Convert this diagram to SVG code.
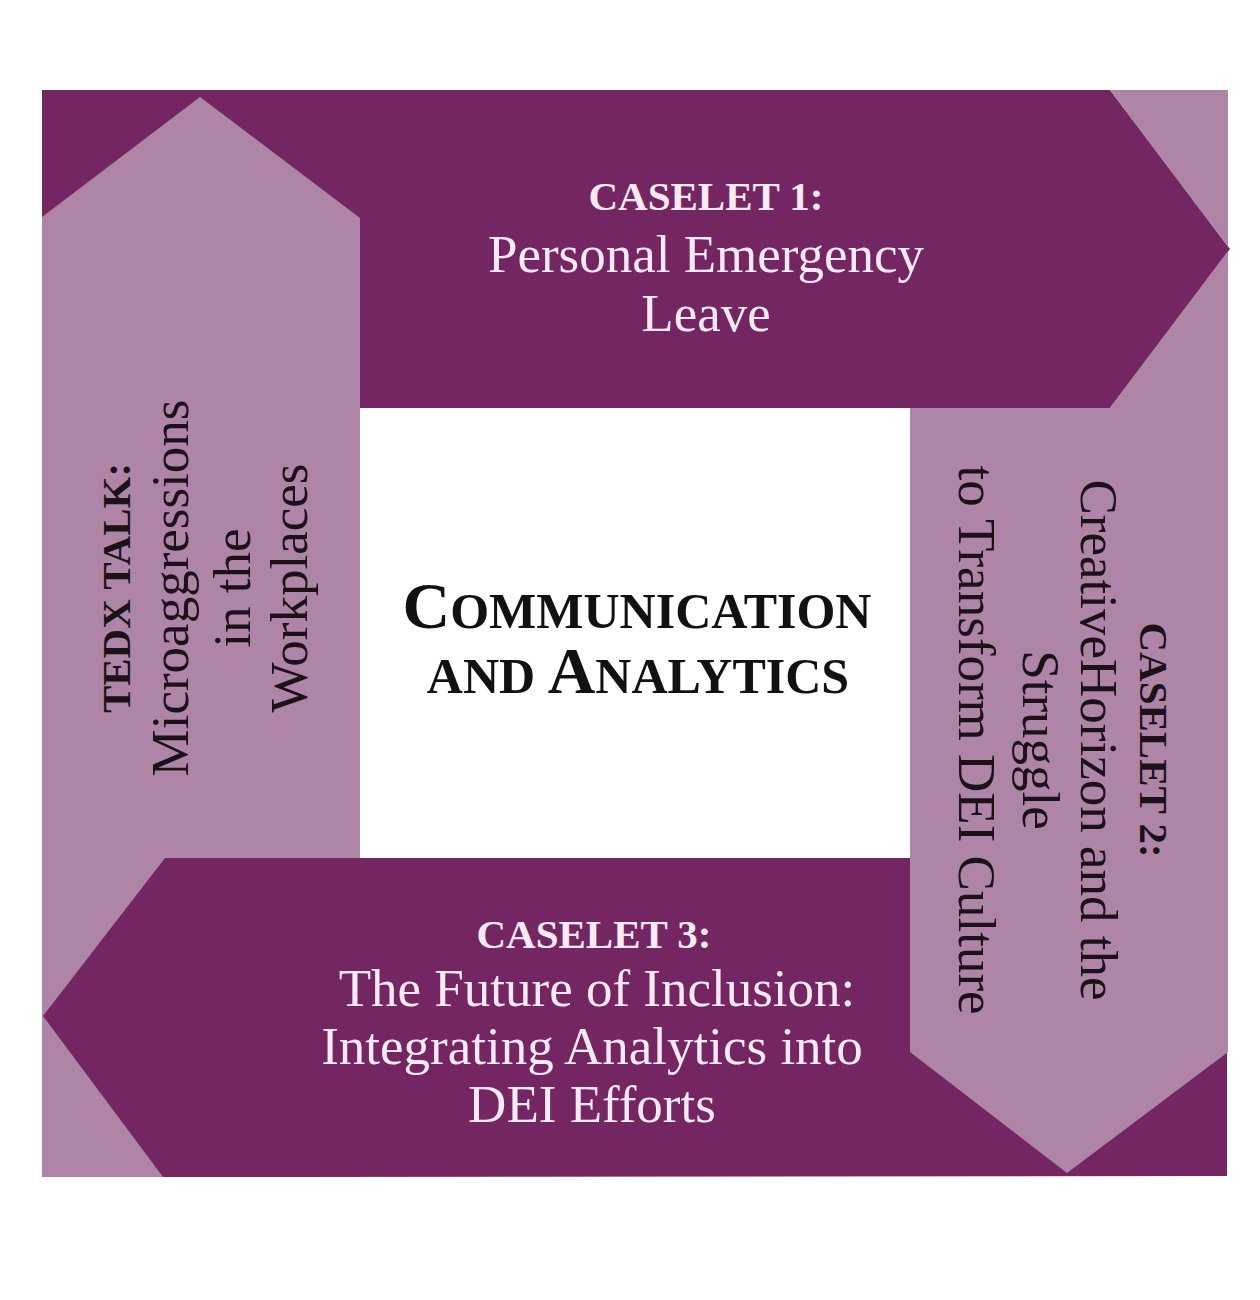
<svg xmlns="http://www.w3.org/2000/svg" width="1260" height="1300" viewBox="0 0 1260 1300">
<style>
.dark{fill:#732661}
.light{fill:#ae85a7}
.t{font-family:"Liberation Serif","Times New Roman",serif;text-anchor:middle}
.onDark{fill:#fbe9f5}
.onLight{fill:#1c1119}
.hd{font-weight:bold;font-size:41px}
.bd{font-size:53px}
.title{font-weight:bold;fill:#111111}
</style>
<rect x="0" y="0" width="1260" height="1300" fill="#ffffff"/>
<g id="caselet1">
<polygon class="dark" points="42,90 1110,90 1230,249 1110,408 42,408"/>
<text class="t onDark hd" x="706" y="210">CASELET 1:</text>
<text class="t onDark bd" x="706" y="272">Personal Emergency</text>
<text class="t onDark bd" x="706" y="331">Leave</text>
</g>
<g id="tedx">
<polygon class="light" points="42,217 200,97 360,218 360,1177 42,1177"/>
<g transform="translate(0,588)">
<text class="t onLight hd" transform="translate(130,0) rotate(-90)" x="0" y="0">TEDX TALK:</text>
<text class="t onLight bd" transform="translate(188,0) rotate(-90)" x="0" y="0">Microaggressions</text>
<text class="t onLight bd" transform="translate(250,0) rotate(-90)" x="0" y="0">in the</text>
<text class="t onLight bd" transform="translate(307,0) rotate(-90)" x="0" y="0">Workplaces</text>
</g>
</g>
<g id="caselet3">
<polygon class="dark" points="165,858 1227,858 1227,1176 163,1177 43,1016"/>
<text class="t onDark hd" x="594" y="948">CASELET 3:</text>
<text class="t onDark bd" x="597" y="1006">The Future of Inclusion:</text>
<text class="t onDark bd" x="592" y="1064">Integrating Analytics into</text>
<text class="t onDark bd" x="592" y="1122">DEI Efforts</text>
</g>
<g id="caselet2">
<path class="light" d="M1110,90 L1228,90 L1228,247 Z M910,408 L1110,408 L1228,251 L1228,1052 L1067,1173 L910,1052 Z"/>
<g transform="translate(0,740)">
<text class="t onLight hd" transform="translate(1140,0) rotate(90)" x="0" y="0">CASELET 2:</text>
<text class="t onLight bd" transform="translate(1081,0) rotate(90)" x="0" y="0">CreativeHorizon and the</text>
<text class="t onLight bd" transform="translate(1023,0) rotate(90)" x="0" y="0">Struggle</text>
<text class="t onLight bd" transform="translate(959,0) rotate(90)" x="0" y="0">to Transform DEI Culture</text>
</g>
</g>
<g id="center">
<rect x="360" y="408" width="550" height="450" fill="#ffffff"/>
<text class="t title" x="637" y="628"><tspan font-size="66">C</tspan><tspan font-size="50">OMMUNICATION</tspan></text>
<text class="t title" x="638" y="693"><tspan font-size="50">AND </tspan><tspan font-size="66">A</tspan><tspan font-size="50">NALYTICS</tspan></text>
</g>
<g id="connectors"/>
</svg>
